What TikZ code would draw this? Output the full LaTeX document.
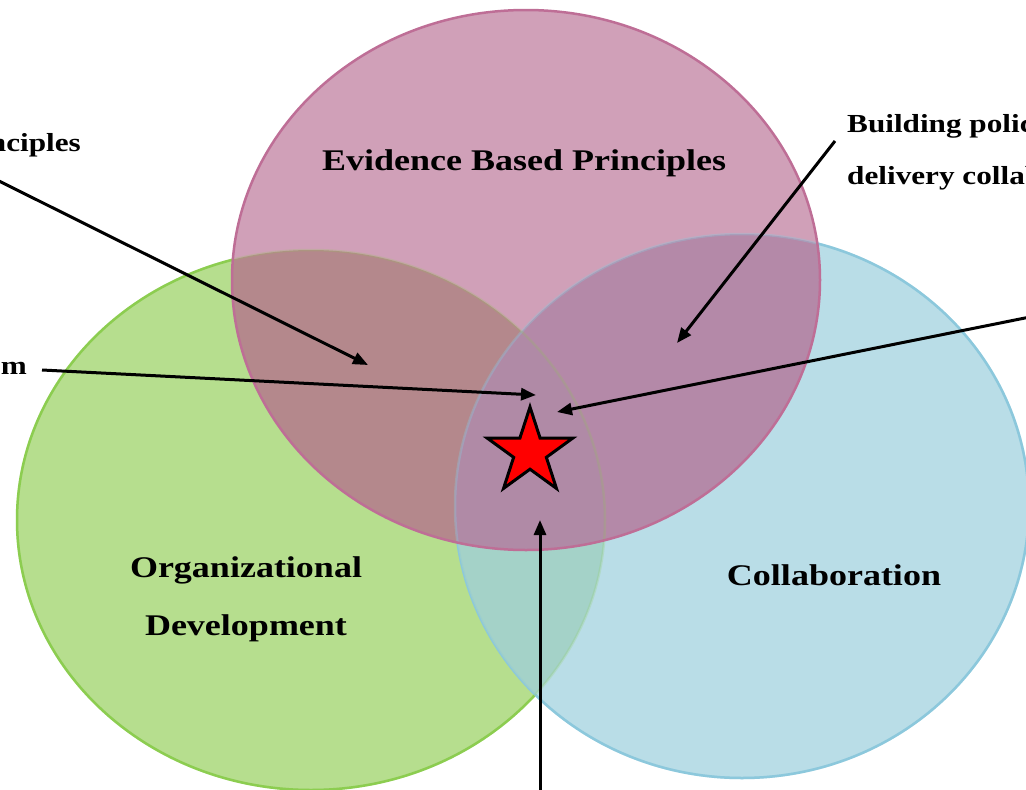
\documentclass[tikz,border=0pt]{standalone}
\usepackage{fontspec}
\setmainfont{Liberation Serif}[FakeStretch=1.2]
\usetikzlibrary{shapes.geometric,arrows.meta}
\definecolor{gfillc}{RGB}{182,222,142}
\definecolor{glinec}{RGB}{140,205,80}
\definecolor{pfillc}{RGB}{208,160,184}
\definecolor{plinec}{RGB}{190,110,150}
\definecolor{bfillc}{RGB}{185,221,231}
\definecolor{blinec}{RGB}{140,200,220}
\definecolor{gpc}{RGB}{180,136,140}
\definecolor{bpc}{RGB}{180,137,168}
\definecolor{gbc}{RGB}{164,210,200}
\definecolor{gbpc}{RGB}{176,138,166}
\begin{document}
\begin{tikzpicture}[x=1pt,y=-1pt,
  bigtext/.style={font=\fontsize{30}{58}\selectfont\bfseries, text=black, inner sep=0, align=center},
  smalltext/.style={font=\fontsize{26}{52}\selectfont\bfseries, text=black, inner sep=0, align=left},
  arr/.style={line width=3, -{Triangle[length=15pt,width=12pt]}},
  rim/.style={line width=2.5}]
\useasboundingbox (0,0) rectangle (1026,790);
\clip (0,0) rectangle (1026,790);
% green and blue circles
\fill[gfillc] (311,520) ellipse [x radius=294, y radius=270];
\draw[glinec, rim] (311,520) ellipse [x radius=294, y radius=270];
\fill[bfillc] (742,506) ellipse [x radius=287, y radius=272];
\draw[blinec, rim] (742,506) ellipse [x radius=287, y radius=272];
\begin{scope}
  \clip (311,520) ellipse [x radius=294, y radius=270];
  \fill[gbc] (742,506) ellipse [x radius=287, y radius=272];
\end{scope}
% pink circle
\fill[pfillc] (526,280) ellipse [x radius=294, y radius=270];
\begin{scope}
  \clip (526,280) ellipse [x radius=294, y radius=270];
  \fill[gpc] (311,520) ellipse [x radius=294, y radius=270];
  \fill[bpc] (742,506) ellipse [x radius=287, y radius=272];
  \clip (742,506) ellipse [x radius=287, y radius=272];
  \fill[gbpc] (311,520) ellipse [x radius=294, y radius=270];
\end{scope}
\draw[blinec, rim, opacity=0.35] (742,506) ellipse [x radius=287, y radius=272];
\draw[glinec, rim, opacity=0.2] (311,520) ellipse [x radius=294, y radius=270];
\draw[plinec, rim] (526,280) ellipse [x radius=294, y radius=270];
% labels
\node[bigtext] (ebp) at (524,163) {Evidence Based Principles};
\node[bigtext] (od) at (246,599) {Organizational\\Development};
\node[bigtext] (col) at (834,575) {Collaboration};
\node[smalltext, anchor=east] (lab1) at (81,145) {Principles};
\node[smalltext, anchor=east] (lab2) at (27,368) {sm};
\node[smalltext, anchor=west] (lab3) at (847,152) {Building policy\\delivery collaboration};
% star
\node[star, star points=5, star point ratio=2.618, minimum size=90pt, inner sep=0,
      fill=red, draw=black, line width=3] (star) at (530,452) {};
% arrow ends
\coordinate (a1s) at (-5,179);
\coordinate (a1e) at (368,365);
\coordinate (a2s) at (42,370);
\coordinate (a2e) at (536,395);
\coordinate (a3s) at (1030,317);
\coordinate (a3e) at (557,412);
\coordinate (a4s) at (835,141);
\coordinate (a4e) at (677,343);
\coordinate (a5s) at (540,795);
\coordinate (a5e) at (540,520);
\draw[arr] (a1s) -- (a1e);
\draw[arr] (a2s) -- (a2e);
\draw[arr] (a3s) -- (a3e);
\draw[arr] (a4s) -- (a4e);
\draw[arr] (a5s) -- (a5e);
\end{tikzpicture}
\end{document}
